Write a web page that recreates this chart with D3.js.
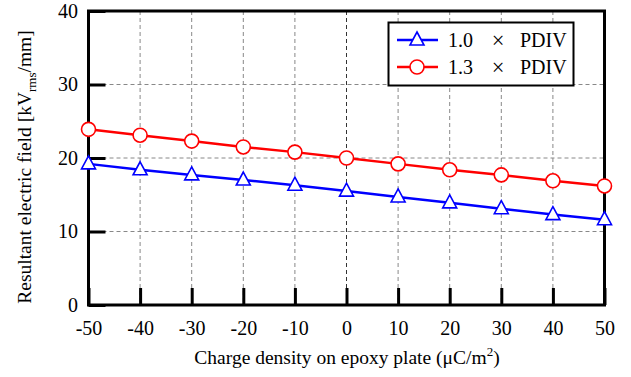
<!DOCTYPE html>
<html>
<head>
<meta charset="utf-8">
<script src="https://cdn.jsdelivr.net/npm/d3@7"></script>
<style>
  body { margin: 0; background: #fff; }
  svg text { font-family: "Liberation Serif", "Times New Roman", serif; }
</style>
</head>
<body>
<svg id="chart" width="631" height="377"></svg>
<script>
// data
const charge = [-50, -40, -30, -20, -10, 0, 10, 20, 30, 40, 50];
const field10 = [19.2, 18.4, 17.7, 17.0, 16.3, 15.5, 14.7, 13.9, 13.1, 12.3, 11.6];
const field13 = [23.9, 23.1, 22.3, 21.5, 20.8, 20.0, 19.2, 18.4, 17.7, 16.9, 16.2];
const xTicks = [-50, -40, -30, -20, -10, 0, 10, 20, 30, 40, 50];
const yTicks = [0, 10, 20, 30, 40];
const seriesLabels = ['1.0', '1.3'];

const svg = d3.select('#chart');
const plotL = 88.5, plotR = 604.5, plotT = 11, plotB = 305;

const x = d3.scaleLinear().domain([-50, 50]).range([plotL, plotR]);
const y = d3.scaleLinear().domain([0, 40]).range([plotB, plotT]);

// grid
const grid = svg.append('g');
grid.selectAll('.vg')
  .data(xTicks.filter(d => d > -50 && d < 50))
  .join('line')
  .attr('x1', d => x(d)).attr('x2', d => x(d))
  .attr('y1', plotT).attr('y2', plotB)
  .attr('stroke', d => d === 0 ? '#333' : '#888')
  .attr('stroke-width', 1)
  .attr('stroke-dasharray', '4,3');
grid.selectAll('.hg')
  .data(yTicks.filter(d => d > 0 && d < 40))
  .join('line')
  .attr('x1', plotL).attr('x2', plotR)
  .attr('y1', d => y(d)).attr('y2', d => y(d))
  .attr('stroke', '#888')
  .attr('stroke-width', 1)
  .attr('stroke-dasharray', '4,3');

// axes with inward ticks, plain hyphen for negatives
const fmt = d => String(d);
const xAxis = svg.append('g')
  .attr('transform', `translate(0,${plotB})`)
  .call(d3.axisBottom(x).tickValues(xTicks).tickFormat(fmt).tickSizeInner(-17).tickSizeOuter(0));
const yAxis = svg.append('g')
  .attr('transform', `translate(${plotL},0)`)
  .call(d3.axisLeft(y).tickValues(yTicks).tickFormat(fmt).tickSizeInner(-17).tickSizeOuter(0));

[xAxis, yAxis].forEach(a => {
  a.attr('font-family', null);
  a.select('.domain').remove();
  a.selectAll('line').attr('stroke', '#000').attr('stroke-width', 3);
  a.selectAll('text')
    .attr('font-size', 20)
    .attr('fill', '#000');
});
xAxis.selectAll('text').attr('y', 30).attr('dy', null);
yAxis.selectAll('text').attr('x', -10.5);

// frame
svg.append('rect')
  .attr('x', plotL).attr('y', plotT)
  .attr('width', plotR - plotL).attr('height', plotB - plotT)
  .attr('fill', 'none').attr('stroke', '#000').attr('stroke-width', 3);

// series
const series = [
  { values: field10, color: '#0000ff', marker: 'tri' },
  { values: field13, color: '#ff0000', marker: 'circ' }
];
const line = d3.line().x((d, i) => x(charge[i])).y(d => y(d));
const triPath = 'M0,-8L7,5L-7,5Z';

function drawMarker(g, type, color) {
  if (type === 'tri') {
    g.append('path').attr('d', triPath)
      .attr('fill', '#fff').attr('stroke', color).attr('stroke-width', 1.6);
  } else {
    g.append('circle').attr('r', 7)
      .attr('fill', '#fff').attr('stroke', color).attr('stroke-width', 1.6);
  }
}

series.forEach(s => {
  svg.append('path')
    .datum(s.values)
    .attr('d', line)
    .attr('fill', 'none')
    .attr('stroke', s.color)
    .attr('stroke-width', 2.5);
  s.values.forEach((v, i) => {
    const g = svg.append('g').attr('transform', `translate(${x(charge[i])},${y(v)})`);
    drawMarker(g, s.marker, s.color);
  });
});

// legend
const lg = svg.append('g');
lg.append('rect')
  .attr('x', 388.5).attr('y', 22.5).attr('width', 185).attr('height', 63)
  .attr('fill', '#fff').attr('stroke', '#000').attr('stroke-width', 2);
series.forEach((s, i) => {
  const ly = 40 + i * 27;
  lg.append('line')
    .attr('x1', 397).attr('x2', 438).attr('y1', ly).attr('y2', ly)
    .attr('stroke', s.color).attr('stroke-width', 2.5);
  const g = lg.append('g').attr('transform', `translate(417,${ly})`);
  drawMarker(g, s.marker, s.color);
  lg.append('text')
    .attr('x', 448).attr('y', ly + 7)
    .attr('font-size', 20).attr('fill', '#000')
    .text(seriesLabels[i]);
  lg.append('text')
    .attr('x', 498).attr('y', ly + 7.5)
    .attr('text-anchor', 'middle')
    .attr('font-size', 22.5).attr('fill', '#000')
    .text('\u00d7');
  lg.append('text')
    .attr('x', 520).attr('y', ly + 7)
    .attr('font-size', 20).attr('fill', '#000')
    .text('PDIV');
});

// axis titles
svg.append('text')
  .attr('x', 347).attr('y', 364)
  .attr('text-anchor', 'middle')
  .attr('font-size', 19.5)
  .html('Charge density on epoxy plate (\u03bcC/m<tspan dy="-8" font-size="13">2</tspan><tspan dy="8">)</tspan>');

svg.append('text')
  .attr('transform', 'translate(31,167) rotate(-90)')
  .attr('text-anchor', 'middle')
  .attr('font-size', 19.5)
  .html('Resultant electric field [kV<tspan dy="5" font-size="13">rms</tspan><tspan dy="-5">/mm]</tspan>');
</script>
</body>
</html>
